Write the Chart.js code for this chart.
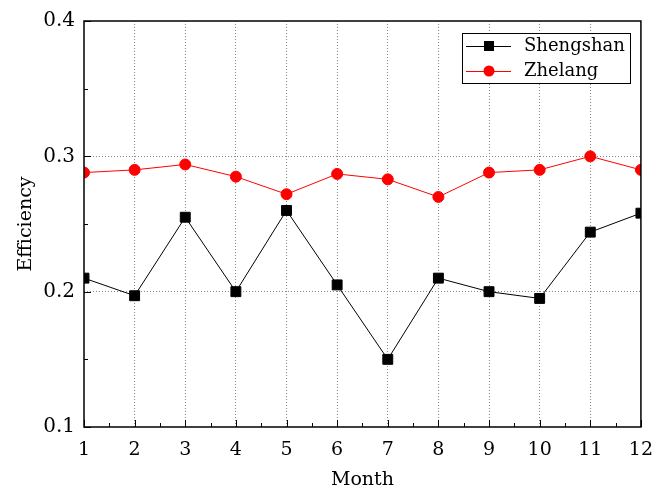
<!DOCTYPE html>
<html lang="en">
<head>
    <meta charset="UTF-8">
    <title>Efficiency by month</title>
    <style>
        html, body { margin: 0; padding: 0; background: #fff; }
        #wrap { width: 665px; height: 491px; }
    </style>
    <script src="https://cdn.jsdelivr.net/npm/chart.js@4.4.1/dist/chart.umd.min.js"></script>
</head>
<body>
    <div id="wrap"><canvas id="effChart" width="665" height="491"></canvas></div>

    <script>
        // data
        const months = [1, 2, 3, 4, 5, 6, 7, 8, 9, 10, 11, 12];
        const shengshan = [0.210, 0.197, 0.255, 0.200, 0.260, 0.205, 0.150, 0.210, 0.200, 0.195, 0.244, 0.258];
        const zhelang = [0.288, 0.290, 0.294, 0.285, 0.272, 0.287, 0.283, 0.270, 0.288, 0.290, 0.300, 0.290];
        const yTicks = [0.1, 0.2, 0.3, 0.4];

        const FONT = '"DejaVu Serif", "Liberation Serif", serif';

        // frame, inward ticks and legend
        const framePlugin = {
            id: 'frame',
            afterDraw(chart) {
                const { ctx, chartArea: a, scales } = chart;
                const x = scales.x, y = scales.y;
                ctx.save();
                ctx.strokeStyle = '#000';
                ctx.lineWidth = 1.5;
                ctx.strokeRect(a.left, a.top, a.right - a.left, a.bottom - a.top);

                ctx.lineWidth = 1;
                ctx.beginPath();
                for (let m = 1; m <= 12; m += 0.5) {
                    const px = Math.round(x.getPixelForValue(m)) + 0.5;
                    const len = Number.isInteger(m) ? 7 : 4;
                    ctx.moveTo(px, a.bottom);
                    ctx.lineTo(px, a.bottom - len);
                }
                for (let v = 0.1; v <= 0.4001; v += 0.05) {
                    const py = Math.round(y.getPixelForValue(v)) + 0.5;
                    const major = Math.abs(v * 10 - Math.round(v * 10)) < 1e-6;
                    ctx.moveTo(a.left, py);
                    ctx.lineTo(a.left + (major ? 7 : 4), py);
                }
                ctx.stroke();

                // legend
                const bx = 462, by = 33, bw = 168, bh = 50;
                ctx.fillStyle = '#fff';
                ctx.fillRect(bx, by, bw, bh);
                ctx.strokeStyle = '#000';
                ctx.lineWidth = 1;
                ctx.strokeRect(bx + 0.5, by + 0.5, bw, bh);

                const rows = [
                    { label: 'Shengshan', color: '#000', shape: 'rect', cy: 46 },
                    { label: 'Zhelang', color: '#ff0000', shape: 'circle', cy: 71 }
                ];
                rows.forEach(r => {
                    ctx.strokeStyle = r.color;
                    ctx.fillStyle = r.color;
                    ctx.beginPath();
                    ctx.moveTo(466, r.cy + 0.5);
                    ctx.lineTo(511, r.cy + 0.5);
                    ctx.stroke();
                    if (r.shape === 'rect') {
                        ctx.fillRect(484, r.cy - 5, 10, 10);
                    } else {
                        ctx.beginPath();
                        ctx.arc(489, r.cy, 5.5, 0, Math.PI * 2);
                        ctx.fill();
                    }
                    ctx.fillStyle = '#000';
                    ctx.font = '18px ' + FONT;
                    ctx.textBaseline = 'middle';
                    ctx.textAlign = 'left';
                    ctx.fillText(r.label, 524, r.cy);
                });
                ctx.restore();
            }
        };

        const gridColor = c => (c.tick && (c.index === 0 || c.index === c.chart.scales[c.scale.id].ticks.length - 1)) ? 'rgba(0,0,0,0)' : '#888';

        new Chart(document.getElementById('effChart').getContext('2d'), {
            type: 'line',
            data: {
                datasets: [
                    {
                        label: 'Shengshan',
                        data: months.map((m, i) => ({ x: m, y: shengshan[i] })),
                        borderColor: '#000',
                        backgroundColor: '#000',
                        borderWidth: 1,
                        pointStyle: 'rect',
                        pointRadius: 7,
                        pointHoverRadius: 7
                    },
                    {
                        label: 'Zhelang',
                        data: months.map((m, i) => ({ x: m, y: zhelang[i] })),
                        borderColor: '#ff0000',
                        backgroundColor: '#ff0000',
                        borderWidth: 1,
                        pointStyle: 'circle',
                        pointRadius: 5.5,
                        pointHoverRadius: 5.5
                    }
                ]
            },
            options: {
                responsive: false,
                animation: false,
                layout: { padding: { left: 0, top: 17, right: 18, bottom: 0 } },
                plugins: { legend: { display: false }, tooltip: { enabled: false } },
                scales: {
                    x: {
                        type: 'linear',
                        min: 1,
                        max: 12,
                        afterFit: s => { s.height = 64; },
                        ticks: {
                            stepSize: 1,
                            padding: 12,
                            color: '#000',
                            font: { family: FONT, size: 19 }
                        },
                        grid: { drawTicks: false, color: gridColor, lineWidth: 1 },
                        border: { display: false, dash: [1, 2] },
                        title: {
                            display: true,
                            text: 'Month',
                            color: '#000',
                            font: { family: FONT, size: 19 },
                            padding: { top: 2, bottom: 0 }
                        }
                    },
                    y: {
                        min: 0.1,
                        max: 0.4,
                        afterFit: s => { s.width = 84; },
                        afterBuildTicks: s => { s.ticks = yTicks.map(v => ({ value: v })); },
                        ticks: {
                            padding: 9,
                            color: '#000',
                            font: { family: FONT, size: 20 },
                            callback: v => v.toFixed(1)
                        },
                        grid: { drawTicks: false, color: gridColor, lineWidth: 1 },
                        border: { display: false, dash: [1, 2] },
                        title: {
                            display: true,
                            text: 'Efficiency',
                            color: '#000',
                            font: { family: FONT, size: 19 },
                            padding: { top: 15, bottom: 0 }
                        }
                    }
                }
            },
            plugins: [framePlugin]
        });
    </script>
</body>
</html>
